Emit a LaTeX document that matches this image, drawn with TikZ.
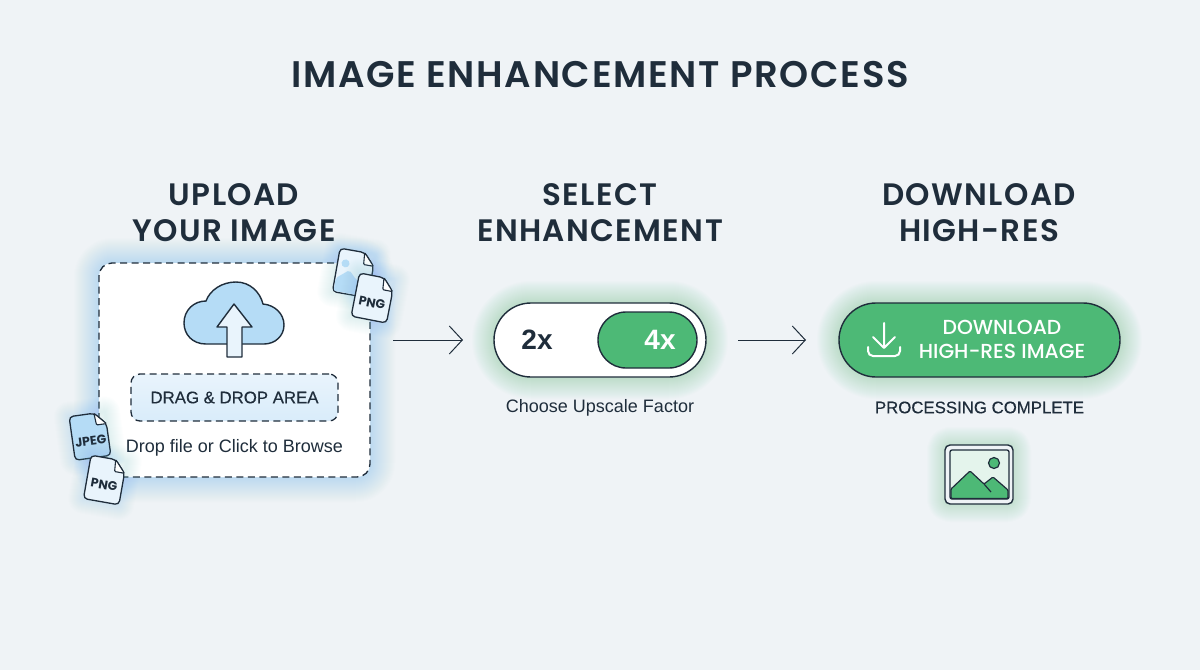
\documentclass[tikz,border=0pt]{standalone}
\usepackage{fontspec}
\usepackage{xcolor}
\usetikzlibrary{arrows.meta,positioning}
\newfontfamily\headfont{Poppins}[BoldFont={Poppins SemiBold}, LetterSpace=4.5]
\newfontfamily\btnfont{Poppins Medium}
\newfontfamily\docfont{Poppins}
\setmainfont{Liberation Sans}

\definecolor{pagebg}{HTML}{EFF3F6}
\definecolor{inkdark}{HTML}{1F2D3B}
\definecolor{glowblue}{HTML}{7FC2F0}
\definecolor{glowgreen}{HTML}{62CC88}
\definecolor{cloudblue}{HTML}{B5DCF6}
\definecolor{palebluefill}{HTML}{E9F4FC}
\definecolor{dragblue}{HTML}{D9ECFA}
\definecolor{btngreen}{HTML}{4DB976}
\definecolor{paleGreen}{HTML}{E4F4EC}

\tikzset{
    stephead/.style={align=center, text=inkdark, font=\headfont\bfseries\fontsize{31}{36}\selectfont},
    smalltext/.style={text=inkdark, font=\fontsize{18}{22}\selectfont},
    capstext/.style={text=inkdark, font=\addfontfeature{FakeBold=0.4}\fontsize{16.8}{20}\selectfont},
    pill/.style={rectangle, draw=inkdark, line width=1.4pt, rounded corners=#1, outer sep=0pt},
    dashbox/.style={draw=inkdark, line width=1.3pt, dash pattern=on 7pt off 4.5pt, outer sep=0pt},
    flowarrow/.style={-{Straight Barb[length=13pt,width=28pt]}, draw=inkdark, line width=1pt},
    doclabel/.style={text=inkdark, font=\docfont\bfseries\fontsize{12.5}{14}\selectfont, transform shape, inner sep=0pt},
}

% soft halo: stacked wide strokes
\newcommand{\halo}[3]{
    \foreach \w in {#2,...,2} {\draw[#1, line width=\w pt, opacity=.014, line join=round] #3;}
}
% dog-eared file: name, x, y, angle, fill, label
\newcommand{\docfile}[6]{
    \begin{scope}[shift={(#2,#3)}, rotate=#4]
        \halo{glowblue}{30,28}{(-18,-22) -- (18,-22) -- (18,22) -- (-18,22) -- cycle}
        \draw[fill=#5, draw=inkdark, line width=1.3pt, rounded corners=4pt] (-18,-22) -- (7,-22) -- (18,-10) -- (18,22) -- (-18,22) -- cycle;
        \draw[fill=white, draw=inkdark, line width=1.1pt, rounded corners=1pt] (7,-22) -- (8,-10) -- (18,-10) -- cycle;
        \node (#1) [doclabel] at (0,5) {#6};
    \end{scope}
}

\begin{document}
\begin{tikzpicture}[x=1pt, y=-1pt]
    \useasboundingbox (0,0) rectangle (1200,670);
    \fill[pagebg] (0,0) rectangle (1200,670);

    \node (title) [text=inkdark, font=\headfont\bfseries\fontsize{37}{40}\selectfont] at (600,75) {IMAGE ENHANCEMENT PROCESS};

    \node (uploadhead) [stephead] at (234,213) {UPLOAD\\YOUR IMAGE};
    \node (selecthead) [stephead, right of=uploadhead, node distance=366pt] {SELECT\\ENHANCEMENT};
    \node (downloadhead) [stephead, right of=selecthead, node distance=379pt] {DOWNLOAD\\HIGH-RES};

    % upload card
    \halo{glowblue}{50,48}{[rounded corners=14pt] (99,263) rectangle (370,477)}
    \node (dropzone) [dashbox, rectangle, rounded corners=13pt, fill=white, minimum width=271pt, minimum height=214pt] at (234.5,370) {};
    \node (dragarea) [dashbox, rectangle, rounded corners=9pt, top color=palebluefill, bottom color=dragblue, minimum width=207pt, minimum height=47pt, capstext] at (234.5,397.5) {DRAG \& DROP AREA};
    \node (dropnote) [smalltext, below of=dragarea, node distance=50.5pt] {Drop file or Click to Browse};

    % cloud with arrow
    \draw[fill=cloudblue, draw=inkdark, line width=1.4pt] (206,344) .. controls (192,344) and (184,334) .. (184,323) .. controls (184,310) and (194,301) .. (206,301) .. controls (210,290) and (222,282) .. (236,282) .. controls (250,282) and (260,292) .. (263,304) .. controls (275,305) and (284,314) .. (284,325) .. controls (284,336) and (275,344) .. (264,344) -- cycle;
    \draw[fill=palebluefill, draw=inkdark, line width=1.4pt, line join=round] (234,304) -- (252,327) -- (242,327) -- (242,357) -- (227,357) -- (227,327) -- (217,327) -- cycle;

    % loose files
    \begin{scope}[shift={(354,273)}, rotate=-10]
        \halo{glowblue}{30,28}{(-18,-22) -- (18,-22) -- (18,22) -- (-18,22) -- cycle}
        \draw[fill=palebluefill, draw=inkdark, line width=1.3pt, rounded corners=4pt] (-18,-22) -- (7,-22) -- (18,-10) -- (18,22) -- (-18,22) -- cycle;
        \fill[cloudblue, rounded corners=2pt] (-17,21) -- (-17,8) -- (-5,-2) -- (3,6) -- (17,12) -- (17,21) -- cycle;
        \fill[cloudblue] (-10,-8) circle (4);
        \draw[fill=white, draw=inkdark, line width=1.1pt, rounded corners=1pt] (7,-22) -- (8,-10) -- (18,-10) -- cycle;
    \end{scope}
    \docfile{pngtop}{373}{298}{-11}{palebluefill}{PNG}
    \docfile{jpegfile}{90}{436}{8}{cloudblue}{JPEG}
    \docfile{pngbottom}{105}{480}{-10}{palebluefill}{PNG}

    % toggle
    \halo{glowgreen}{44,42}{[rounded corners=37pt] (494,303) rectangle (706,377)}
    \node (toggle) [pill=37pt, fill=white, minimum width=212pt, minimum height=74pt] at (600,340) {};
    \node (knob) [pill=28pt, fill=btngreen, minimum width=99pt, minimum height=56pt] at (647.5,340) {};
    \node (twox) [text=inkdark, font=\bfseries\fontsize{28}{32}\selectfont] at (537,340) {2x};
    \node (fourx) [text=white, font=\bfseries\fontsize{28}{32}\selectfont] at (660,340) {4x};
    \node (togglenote) [smalltext, below of=toggle, node distance=68pt] {Choose Upscale Factor};

    % download button
    \halo{glowgreen}{44,42}{[rounded corners=37pt] (839,303) rectangle (1120,377)}
    \node (download) [pill=37pt, fill=btngreen, minimum width=281pt, minimum height=74pt] at (979.5,340) {};
    \node (downloadtext) [align=center, text=white, font=\btnfont\fontsize{20.3}{24}\selectfont] at (1002,339) {DOWNLOAD\\HIGH-RES IMAGE};
    \draw[white, line width=2pt, line cap=round, line join=round] (884,323) -- (884,347) (873,337) -- (884,348) -- (895,337);
    \draw[white, line width=2pt, line cap=round, rounded corners=5pt] (868,347) -- (868,356) -- (900,356) -- (900,347);
    \node (donenote) [capstext, below of=download, node distance=67.5pt] {PROCESSING COMPLETE};

    % finished image icon
    \halo{glowgreen}{36,34}{[rounded corners=5pt] (945,445) rectangle (1013,504)}
    \draw[fill=pagebg, draw=inkdark, line width=1.4pt, rounded corners=5pt] (945,445) rectangle (1013,504);
    \draw[fill=paleGreen, draw=inkdark, line width=1.3pt, rounded corners=2pt] (950,450) rectangle (1009,499);
    \draw[fill=btngreen, draw=inkdark, line width=1.2pt, rounded corners=1pt, line join=round] (951,489) -- (970,471) -- (984,484) -- (993,477) -- (1008,490) -- (1008,498.5) -- (951,498.5) -- cycle;
    \draw[inkdark, line width=1.2pt] (984,484) -- (991,492);
    \draw[fill=btngreen, draw=inkdark, line width=1.2pt] (994,463) circle (5.5);

    \draw[flowarrow, shorten <=23pt, shorten >=31pt] (toggle.west -| dropzone.east) -- (toggle.west);
    \draw[flowarrow, shorten <=32pt, shorten >=33pt] (toggle.east) -- (download.west);
\end{tikzpicture}
\end{document}
